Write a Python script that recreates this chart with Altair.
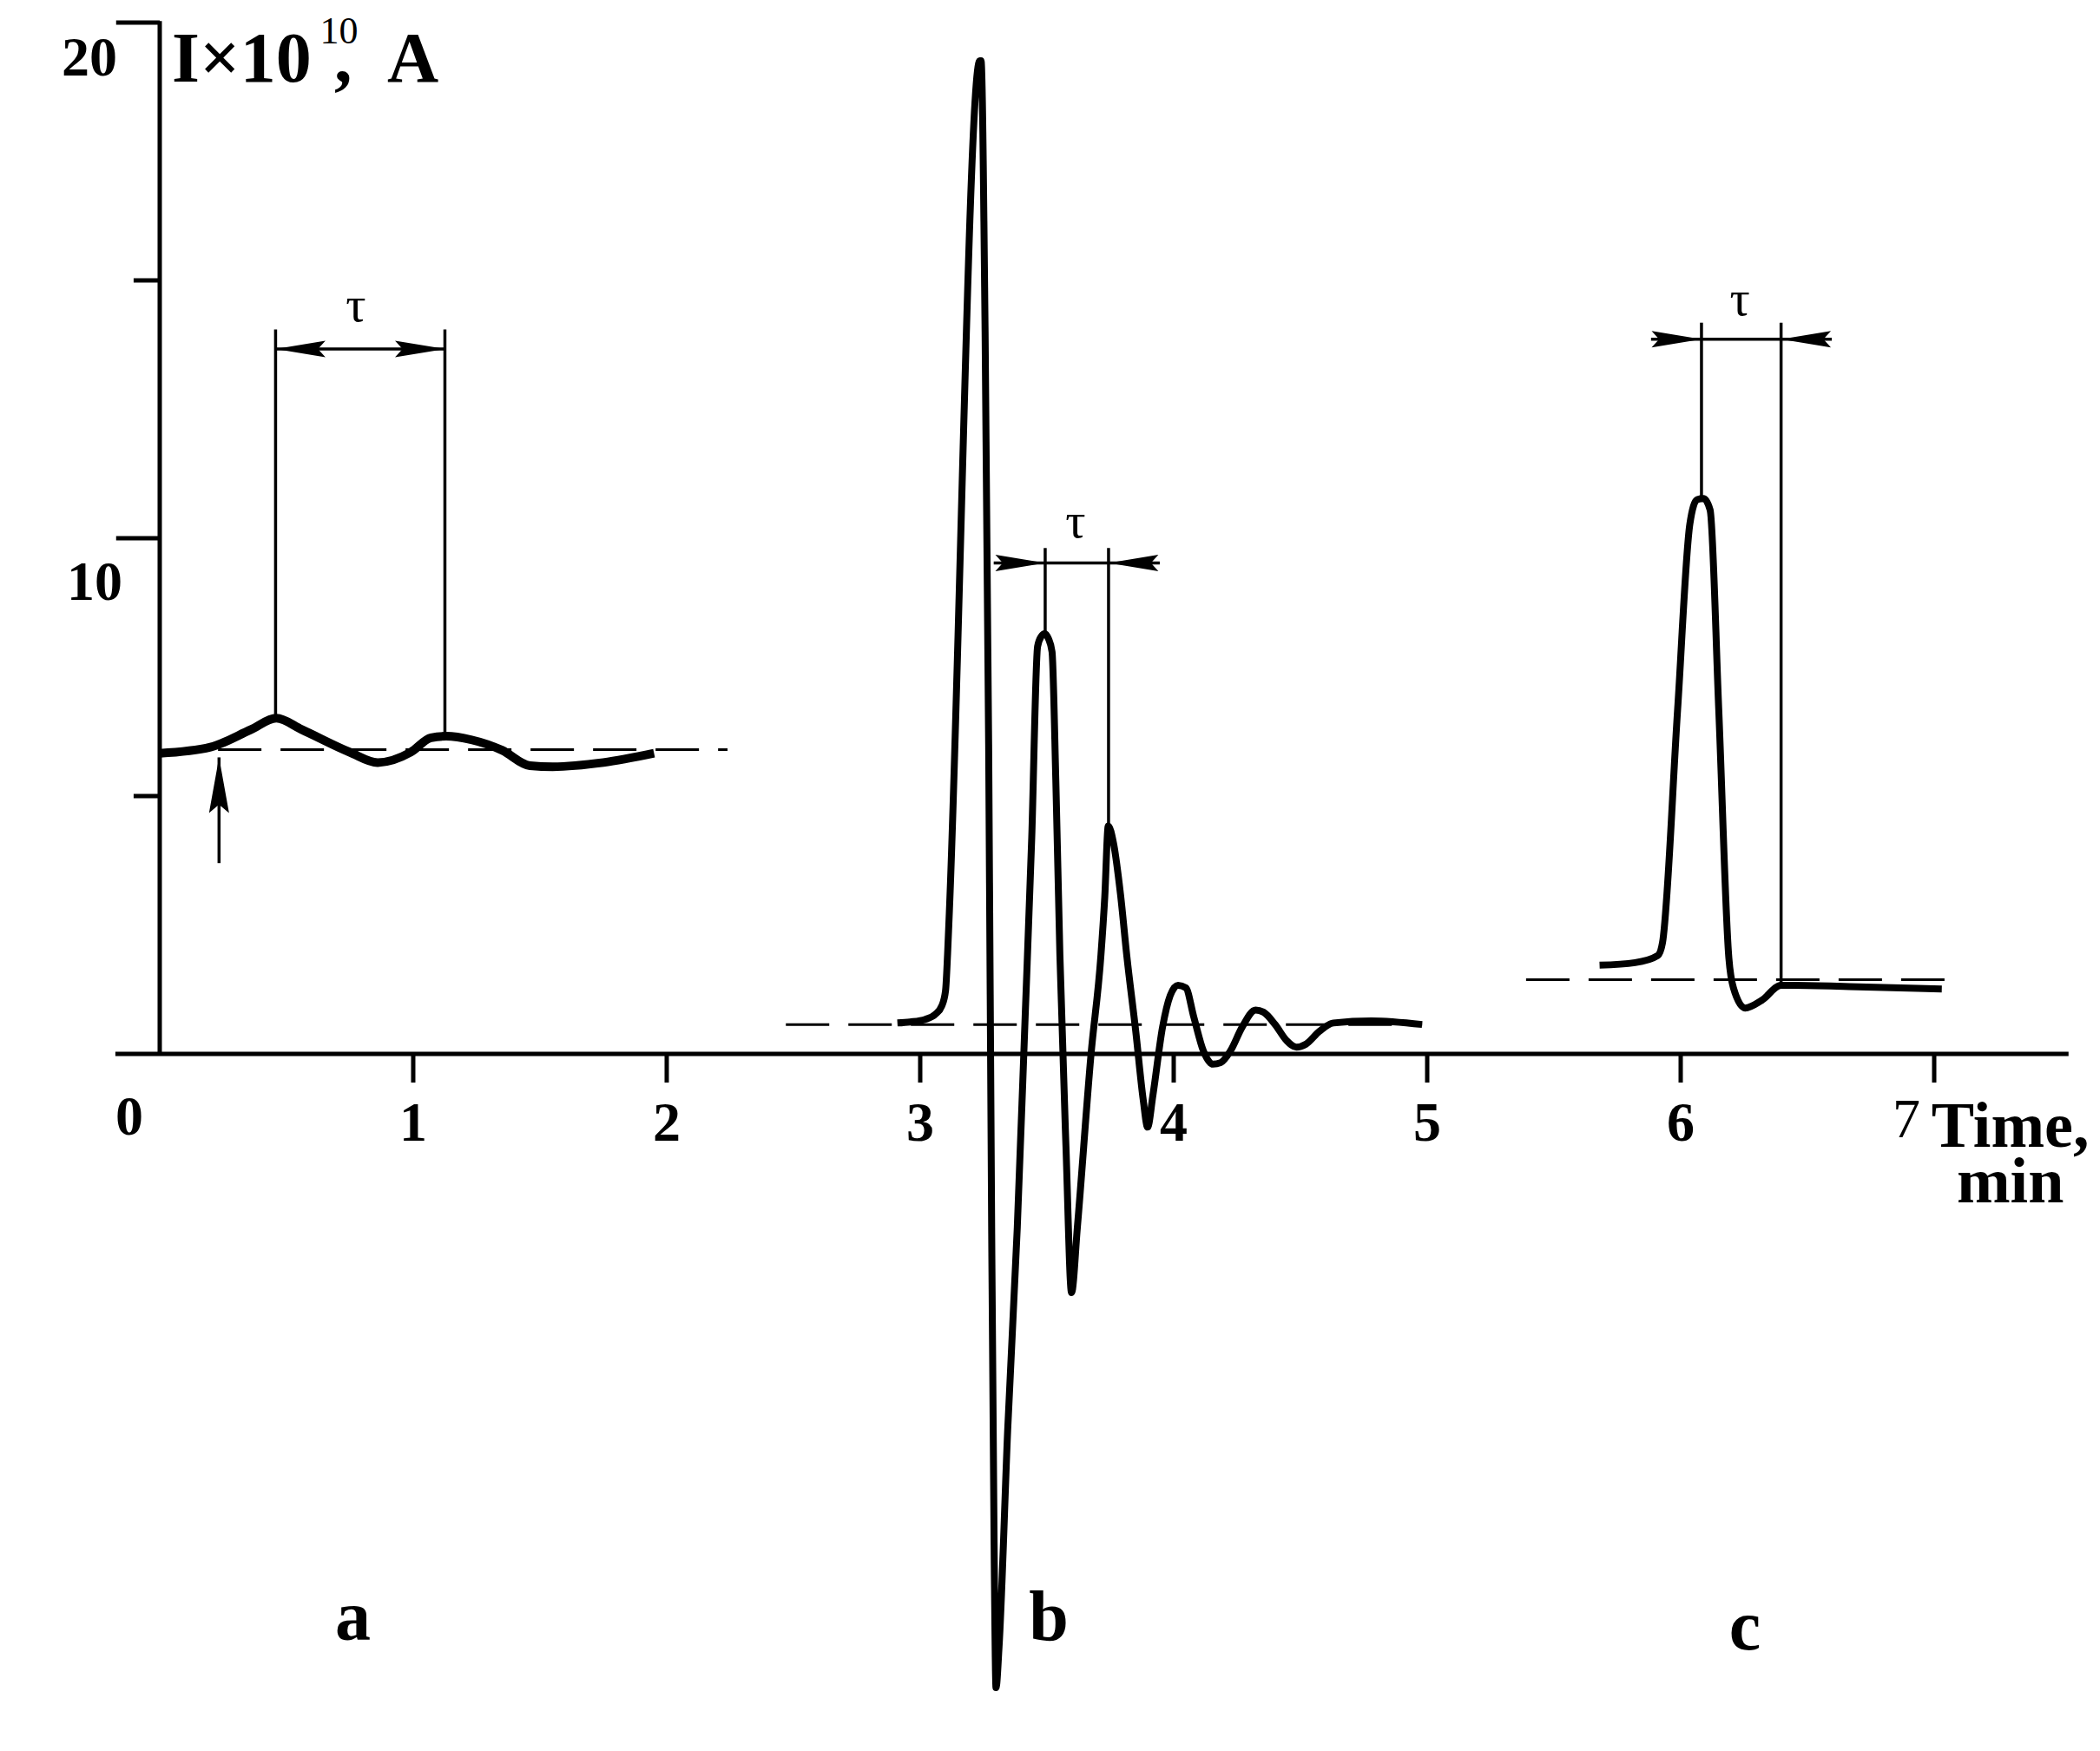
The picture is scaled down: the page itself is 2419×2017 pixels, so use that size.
import altair as alt
import pandas as pd

FONT = "Liberation Serif"

# ---------------- curve data (time in min, current in 1e-10 A) ----------------
a_t = [0.0, 0.20, 0.36, 0.46, 0.56, 0.75, 0.86, 0.99, 1.07, 1.13, 1.23, 1.35, 1.46, 1.55, 1.75, 1.95]
a_v = [5.83, 5.95, 6.29, 6.51, 6.29, 5.85, 5.65, 5.85, 6.13, 6.16, 6.09, 5.89, 5.59, 5.57, 5.65, 5.83]

b_t = [2.91, 2.96, 3.02, 3.06, 3.085, 3.10, 3.108, 3.115, 3.235, 3.24, 3.256, 3.27, 3.282, 3.292,
       3.299, 3.311, 3.345, 3.383, 3.414, 3.44, 3.463, 3.478, 3.491, 3.506, 3.52, 3.535, 3.551,
       3.575, 3.597, 3.62, 3.674, 3.713, 3.728, 3.742, 3.762, 3.79, 3.815, 3.85, 3.88, 3.897,
       3.918, 3.956, 3.986, 4.017, 4.048, 4.079, 4.117, 4.155, 4.185, 4.224, 4.27, 4.323, 4.354,
       4.40, 4.445, 4.484, 4.522, 4.575, 4.63, 4.78, 4.98]
b_v = [0.60, 0.62, 0.67, 0.77, 0.93, 1.23, 1.94, 2.76, 19.26, 19.26, 14.0, 6.0, -3.5, -9.8,
       -12.29, -11.5, -7.3, -3.36, 0.72, 4.2, 7.9, 8.1, 8.15, 8.05, 7.8, 5.3, 1.92,
       -1.8, -4.63, -3.36, 0.0, 1.92, 3.04, 4.42, 4.1, 3.1, 1.9, 0.45, -0.9, -1.42,
       -0.8, 0.52, 1.13, 1.33, 1.28, 0.72, 0.06, -0.2, -0.17, 0.06, 0.52, 0.85, 0.81,
       0.57, 0.26, 0.13, 0.19, 0.44, 0.60, 0.64, 0.57]

c_t = [5.68, 5.82, 5.91, 5.928, 5.988, 6.036, 6.065, 6.09, 6.116, 6.15, 6.19, 6.208, 6.254, 6.32,
       6.396, 6.447, 6.70, 7.03]
c_v = [1.72, 1.77, 1.91, 2.15, 6.69, 10.27, 10.75, 10.77, 10.55, 6.69, 1.86, 1.28, 0.89, 1.04,
       1.33, 1.33, 1.30, 1.26]

# dashed baselines
base_t1 = [0.23, 2.47, 5.39]
base_t2 = [2.24, 4.98, 7.05]
base_v = [5.90, 0.57, 1.44]

# tau markers: vertical lines
tau_line_t = [0.457, 1.125, 3.493, 3.743, 6.082, 6.396]
tau_line_v1 = [6.51, 6.16, 8.15, 4.42, 10.77, 1.33]
tau_line_v2 = [14.05, 14.05, 9.81, 9.81, 14.18, 14.18]
# arrow shafts
shaft_t1 = [0.457, 3.29, 5.883]
shaft_t2 = [1.125, 3.945, 6.596]
shaft_v = [13.67, 9.52, 13.86]
# arrow tips
tip_right_t = [1.125, 3.493, 6.082]
tip_right_v = [13.67, 9.52, 13.86]
tip_left_t = [0.457, 3.743, 6.396]
tip_left_v = [13.67, 9.52, 13.86]
tau_lab_t = [0.774, 3.613, 6.233]
tau_lab_v = [14.21, 10.02, 14.33]

# injection arrow (curve a)
inj_t = [0.234]
inj_v1 = [3.70]
inj_v2 = [5.75]

# axes
x_ticks = [1, 2, 3, 4, 5, 6, 7]
x_tick_labels = ["1", "2", "3", "4", "5", "6"]
y_ticks = [20, 15, 10, 5]
y_tick_len = [0.172, 0.103, 0.172, 0.103]
y_labels = ["20", "10"]
y_label_v = [18.97, 8.80]
letters = ["a", "b", "c"]
letter_t = [0.762, 3.507, 6.253]
letter_v = [-11.36, -11.36, -11.55]

# ---------------- view geometry ----------------
T_MIN, T_MAX = -0.6027, 7.6267
V_MIN, V_MAX = -13.384, 20.303
W, H = 2403, 2001

xs = alt.Scale(domain=[T_MIN, T_MAX], nice=False, zero=False)
ys = alt.Scale(domain=[V_MIN, V_MAX], nice=False, zero=False)


def X(f):
    return alt.X(f"{f}:Q", scale=xs, axis=None)


def Y(f):
    return alt.Y(f"{f}:Q", scale=ys, axis=None)


layers = []

# axes lines
axes_df = pd.DataFrame({"t1": [-0.175, 0.0], "t2": [7.53, 0.0], "v1": [0.0, 0.0], "v2": [0.0, 20.03]})
layers.append(alt.Chart(axes_df).mark_rule(color="black", strokeWidth=5).encode(
    x=X("t1"), x2="t2", y=Y("v1"), y2="v2"))

xt_df = pd.DataFrame({"t": x_ticks, "v1": [0.0] * 7, "v2": [-0.556] * 7})
layers.append(alt.Chart(xt_df).mark_rule(color="black", strokeWidth=5).encode(
    x=X("t"), y=Y("v1"), y2="v2"))

yt_df = pd.DataFrame({"v": y_ticks, "t1": [-l for l in y_tick_len], "t2": [0.0] * 4})
layers.append(alt.Chart(yt_df).mark_rule(color="black", strokeWidth=5).encode(
    x=X("t1"), x2="t2", y=Y("v")))

# dashed baselines
base_df = pd.DataFrame({"t1": base_t1, "t2": base_t2, "v": base_v})
layers.append(alt.Chart(base_df).mark_rule(color="black", strokeWidth=3, strokeDash=[50, 22]).encode(
    x=X("t1"), x2="t2", y=Y("v")))

# curves
for tt, vv, sw in [(a_t, a_v, 10), (b_t, b_v, 8), (c_t, c_v, 8)]:
    df = pd.DataFrame({"t": tt, "v": vv, "i": range(len(tt))})
    layers.append(alt.Chart(df).mark_line(color="black", strokeWidth=sw, interpolate="monotone",
                                          strokeJoin="round", strokeCap="butt").encode(
        x=X("t"), y=Y("v"), order="i:Q"))

# tau vertical lines
tl_df = pd.DataFrame({"t": tau_line_t, "v1": tau_line_v1, "v2": tau_line_v2})
layers.append(alt.Chart(tl_df).mark_rule(color="black", strokeWidth=3.5).encode(
    x=X("t"), y=Y("v1"), y2="v2"))

# arrow shafts
sh_df = pd.DataFrame({"t1": shaft_t1, "t2": shaft_t2, "v": shaft_v})
layers.append(alt.Chart(sh_df).mark_rule(color="black", strokeWidth=3.5).encode(
    x=X("t1"), x2="t2", y=Y("v")))

# arrow heads (tip at symbol origin)
RIGHT = "M0,0 L-2,-0.33 L-1.7,0 L-2,0.33 Z"
LEFT = "M0,0 L2,-0.33 L1.7,0 L2,0.33 Z"
UP = "M0,0 L-0.36,2 L0,1.7 L0.36,2 Z"
layers.append(alt.Chart(pd.DataFrame({"t": tip_right_t, "v": tip_right_v})).mark_point(
    shape=RIGHT, filled=True, color="black", opacity=1, size=3300, strokeWidth=0).encode(x=X("t"), y=Y("v")))
layers.append(alt.Chart(pd.DataFrame({"t": tip_left_t, "v": tip_left_v})).mark_point(
    shape=LEFT, filled=True, color="black", opacity=1, size=3300, strokeWidth=0).encode(x=X("t"), y=Y("v")))

inj_df = pd.DataFrame({"t": inj_t, "v1": inj_v1, "v2": inj_v2})
layers.append(alt.Chart(inj_df).mark_rule(color="black", strokeWidth=3.5).encode(
    x=X("t"), y=Y("v1"), y2="v2"))
layers.append(alt.Chart(pd.DataFrame({"t": inj_t, "v": inj_v2})).mark_point(
    shape=UP, filled=True, color="black", opacity=1, size=4100, strokeWidth=0).encode(x=X("t"), y=Y("v")))


def text_layer(t, v, txt, size, weight="bold", align="center"):
    df = pd.DataFrame({"t": t, "v": v, "s": txt})
    return alt.Chart(df).mark_text(font=FONT, fontSize=size, fontWeight=weight, align=align,
                                   baseline="alphabetic", color="black").encode(
        x=X("t"), y=Y("v"), text="s:N")


# tick labels
layers.append(text_layer(x_ticks[:6], [-1.68] * 6, x_tick_labels, 64))
layers.append(text_layer([6.89], [-1.62], ["7"], 64, weight="normal"))
layers.append(text_layer([-0.12], [-1.57], ["0"], 64))
layers.append(text_layer([-0.168, -0.147], y_label_v, y_labels, 64, align="right"))

# axis titles
layers.append(text_layer([7.30, 7.30], [-1.80, -2.88], ["Time,", "min"], 74))
layers.append(text_layer([0.048], [18.86], ["I×10"], 82, align="left"))
layers.append(text_layer([0.632], [19.60], ["10"], 44, weight="normal", align="left"))
layers.append(text_layer([0.688, 0.897], [18.86, 18.86], [",", "A"], 82, align="left"))

# tau labels
layers.append(text_layer(tau_lab_t, tau_lab_v, ["τ", "τ", "τ"], 58, weight="normal"))

# panel letters
layers.append(text_layer(letter_t, letter_v, letters, 82))

chart = alt.layer(*layers).properties(
    width=W, height=H, padding=0, background="white",
    autosize=alt.AutoSizeParams(type="none"),
).configure_view(stroke=None)

chart.save("out.html", embed_options={"renderer": "svg", "actions": False})
